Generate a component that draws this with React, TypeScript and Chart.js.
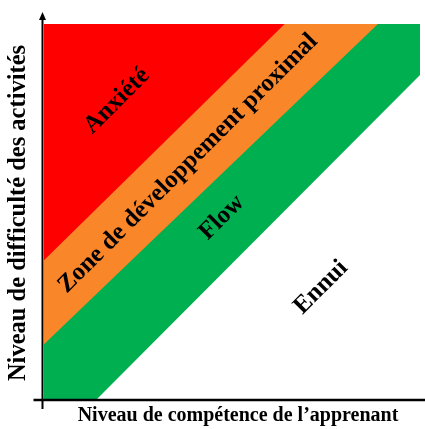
import React, { useEffect, useRef } from "react";
import { Chart, registerables } from "chart.js";

Chart.register(...registerables);

// Band boundaries (x: learner competence, y: activity difficulty), 0..100
const anxietyX = [0, 100];
const anxietyY = [100, 100];
const zpdX = [0, 64, 100];
const zpdY = [37, 100, 100];
const flowX = [0, 88.8, 100];
const flowY = [14.6, 100, 100];
const boredomX = [0, 14.1, 100];
const boredomY = [0, 0, 86.4];

const zoneLabels = ["Anxiété", "Zone de développement proximal", "Flow", "Ennui"];
const zoneLabelX = [19.4, 38.3, 47.3, 73.7];
const zoneLabelY = [79.5, 62.8, 48.4, 29.8];

const xTitle = "Niveau de compétence de l\u2019apprenant";
const yTitle = "Niveau de difficulté des activités";

const toPoints = (xs: number[], ys: number[]) => xs.map((x, i) => ({ x, y: ys[i] }));

export default function App() {
  const ref = useRef<HTMLCanvasElement>(null);
  useEffect(() => {
    if (!ref.current) return;
    const serif = "'Liberation Serif', 'Times New Roman', serif";
    const overlay = {
      id: "overlay",
      afterDatasetsDraw(chart: any) {
        const ctx = chart.ctx;
        const xs = chart.scales.x;
        const ys = chart.scales.y;
        ctx.save();
        ctx.fillStyle = "#000";
        ctx.font = `bold 25px ${serif}`;
        ctx.textAlign = "center";
        ctx.textBaseline = "middle";
        zoneLabels.forEach((t, i) => {
          ctx.save();
          ctx.translate(xs.getPixelForValue(zoneLabelX[i]), ys.getPixelForValue(zoneLabelY[i]));
          ctx.rotate(-Math.PI / 4);
          ctx.fillText(t, 0, 0);
          ctx.restore();
        });
        ctx.restore();
      },
      afterDraw(chart: any) {
        const ctx = chart.ctx;
        const xs = chart.scales.x;
        const ys = chart.scales.y;
        const x0 = xs.getPixelForValue(0) - 1.5;
        const y0 = ys.getPixelForValue(0) + 1;
        const yTop = ys.getPixelForValue(100);
        ctx.save();
        ctx.strokeStyle = "#000";
        ctx.fillStyle = "#000";
        ctx.lineWidth = 2;
        // y axis
        ctx.beginPath();
        ctx.moveTo(x0, y0 + 9);
        ctx.lineTo(x0, yTop - 6);
        ctx.stroke();
        // arrow head
        ctx.beginPath();
        ctx.moveTo(x0, yTop - 12);
        ctx.lineTo(x0 - 3.5, yTop - 4);
        ctx.lineTo(x0 + 3.5, yTop - 4);
        ctx.closePath();
        ctx.fill();
        // x axis
        ctx.lineWidth = 2.5;
        ctx.beginPath();
        ctx.moveTo(x0 - 9, y0);
        ctx.lineTo(chart.width, y0);
        ctx.stroke();
        // titles
        ctx.textAlign = "center";
        ctx.textBaseline = "middle";
        ctx.font = `bold 20px ${serif}`;
        ctx.fillText(xTitle, 238, 416);
        ctx.save();
        ctx.translate(19, 213);
        ctx.rotate(-Math.PI / 2);
        ctx.font = `bold 24.5px ${serif}`;
        ctx.fillText(yTitle, 0, 0);
        ctx.restore();
        ctx.restore();
      },
    };
    const ds = (xs: number[], ys: number[], color: string, order: number) => ({
      data: toPoints(xs, ys),
      showLine: true,
      fill: "start",
      backgroundColor: color,
      borderColor: color,
      borderWidth: 0,
      pointRadius: 0,
      order,
    });
    const chart = new Chart(ref.current, {
      type: "scatter",
      data: {
        datasets: [
          ds(anxietyX, anxietyY, "#FF0000", 3),
          ds(zpdX, zpdY, "#FA862A", 2),
          ds(flowX, flowY, "#00B050", 1),
          ds(boredomX, boredomY, "#FFFFFF", 0),
        ] as any,
      },
      options: {
        animation: false,
        responsive: false,
        layout: { padding: { left: 44, top: 24, right: 5, bottom: 30 } },
        scales: {
          x: { type: "linear", min: 0, max: 100, display: false },
          y: { type: "linear", min: 0, max: 100, display: false },
        },
        plugins: { legend: { display: false }, tooltip: { enabled: false } },
      },
      plugins: [overlay],
    });
    return () => chart.destroy();
  }, []);
  return (
    <div style={{ position: "absolute", left: 0, top: 0, width: 425, height: 429, background: "#fff" }}>
      <canvas ref={ref} width={425} height={429} />
    </div>
  );
}
